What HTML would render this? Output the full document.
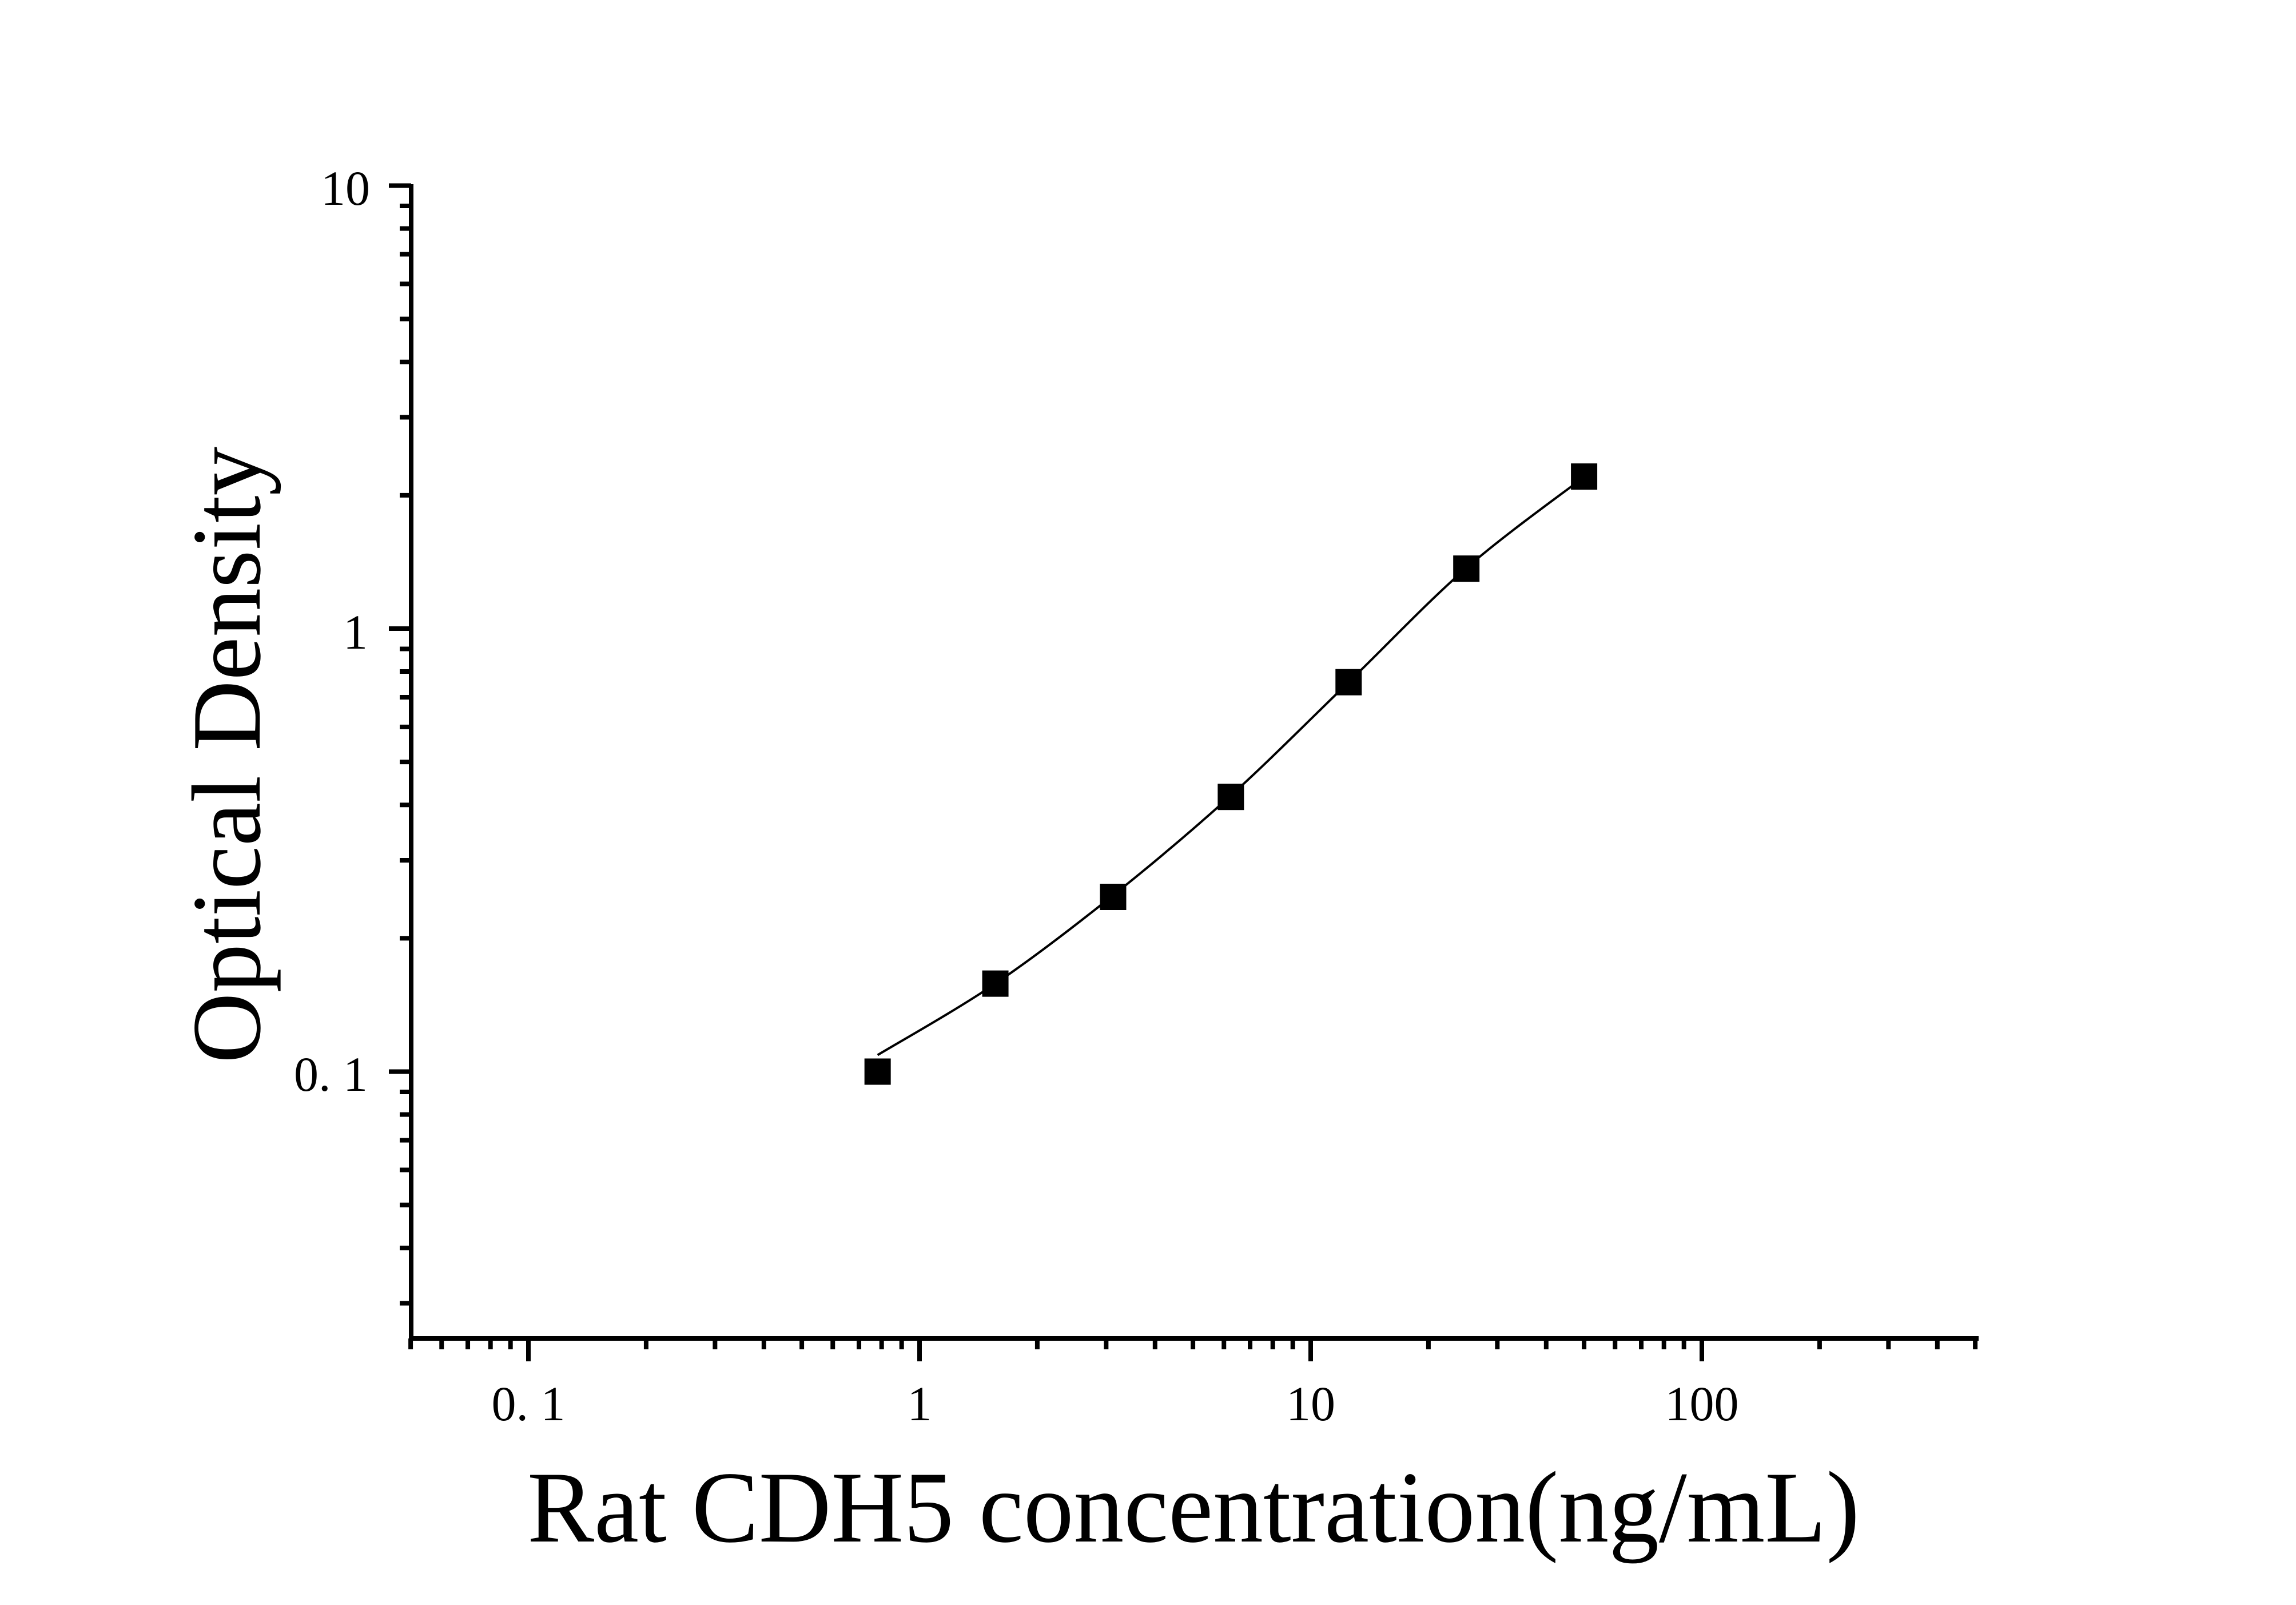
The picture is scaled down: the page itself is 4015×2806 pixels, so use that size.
<!DOCTYPE html>
<html><head><meta charset="utf-8"><style>html,body{margin:0;padding:0;background:#fff}svg{display:block}</style></head>
<body>
<svg id="s" width="4015" height="2806" viewBox="0 0 4015 2806" xmlns="http://www.w3.org/2000/svg" font-family="'Liberation Serif', serif">
<rect width="4015" height="2806" fill="#fff"/>
<g id="ax" stroke="#000" stroke-width="8" fill="none">
<line x1="719" y1="322" x2="719" y2="2344"/>
<line x1="715" y1="2340" x2="3460" y2="2340"/>
</g>
<g font-size="86" fill="#000">
<text x="647" y="358" text-anchor="end">10</text>
<text x="643" y="1134" text-anchor="end">1</text>
<text x="643" y="1907" text-anchor="end">0. 1</text>
<text x="924" y="2483" text-anchor="middle">0. 1</text>
<text x="1608" y="2483" text-anchor="middle">1</text>
<text x="2292" y="2483" text-anchor="middle">10</text>
<text x="2976" y="2483" text-anchor="middle">100</text>
</g>
<text x="922" y="2695" font-size="178" textLength="2330" lengthAdjust="spacingAndGlyphs">Rat CDH5 concentration(ng/mL)</text>
<text transform="translate(454,1859) rotate(-90)" font-size="172" textLength="1078" lengthAdjust="spacingAndGlyphs">Optical Density</text>
<path id="curve" fill="none" stroke="#000" stroke-width="4"/>
<g id="pts" fill="#000"></g>
</svg>
<script>
var NS="http://www.w3.org/2000/svg",ax=document.getElementById('ax');
function X(v){return 1608+684*Math.log10(v)}
function Y(v){return 1099-774.5*Math.log10(v)}
function L(x1,y1,x2,y2){var l=document.createElementNS(NS,'line');l.setAttribute('x1',x1);l.setAttribute('y1',y1);l.setAttribute('x2',x2);l.setAttribute('y2',y2);ax.appendChild(l);}
[0.01,0.1,1].forEach(function(d){for(var k=1;k<=9;k++){var v=d*k;if(v<0.0255||v>10.01)continue;var y=Y(v);L(k==1?680:699,y,719,y);}});
L(680,Y(10),719,Y(10));
[0.01,0.1,1,10,100].forEach(function(d){for(var k=1;k<=9;k++){var v=d*k;if(v<0.0499||v>500.1)continue;var x=X(v);L(x,2340,x,k==1?2380:2359);}});
var xs=[0.78125,1.5625,3.125,6.25,12.5,25,50],ys=[0.1,0.158,0.248,0.417,0.757,1.366,2.204];
var g=document.getElementById('pts');
for(var i=0;i<xs.length;i++){var r=document.createElementNS(NS,'rect');r.setAttribute('x',X(xs[i])-23);r.setAttribute('y',Y(ys[i])-23);r.setAttribute('width',46);r.setAttribute('height',46);g.appendChild(r);}
var cy=[0.109,0.158,0.25,0.42,0.757,1.37,2.2];
var P=xs.map(function(v,i){return [X(v),Y(cy[i])]});
var d='M'+P[0][0]+','+P[0][1];
for(var i=0;i<P.length-1;i++){var p0=P[Math.max(0,i-1)],p1=P[i],p2=P[i+1],p3=P[Math.min(P.length-1,i+2)];
d+=' C'+(p1[0]+(p2[0]-p0[0])/6)+','+(p1[1]+(p2[1]-p0[1])/6)+' '+(p2[0]-(p3[0]-p1[0])/6)+','+(p2[1]-(p3[1]-p1[1])/6)+' '+p2[0]+','+p2[1];}
document.getElementById('curve').setAttribute('d',d);
</script>
</body></html>
